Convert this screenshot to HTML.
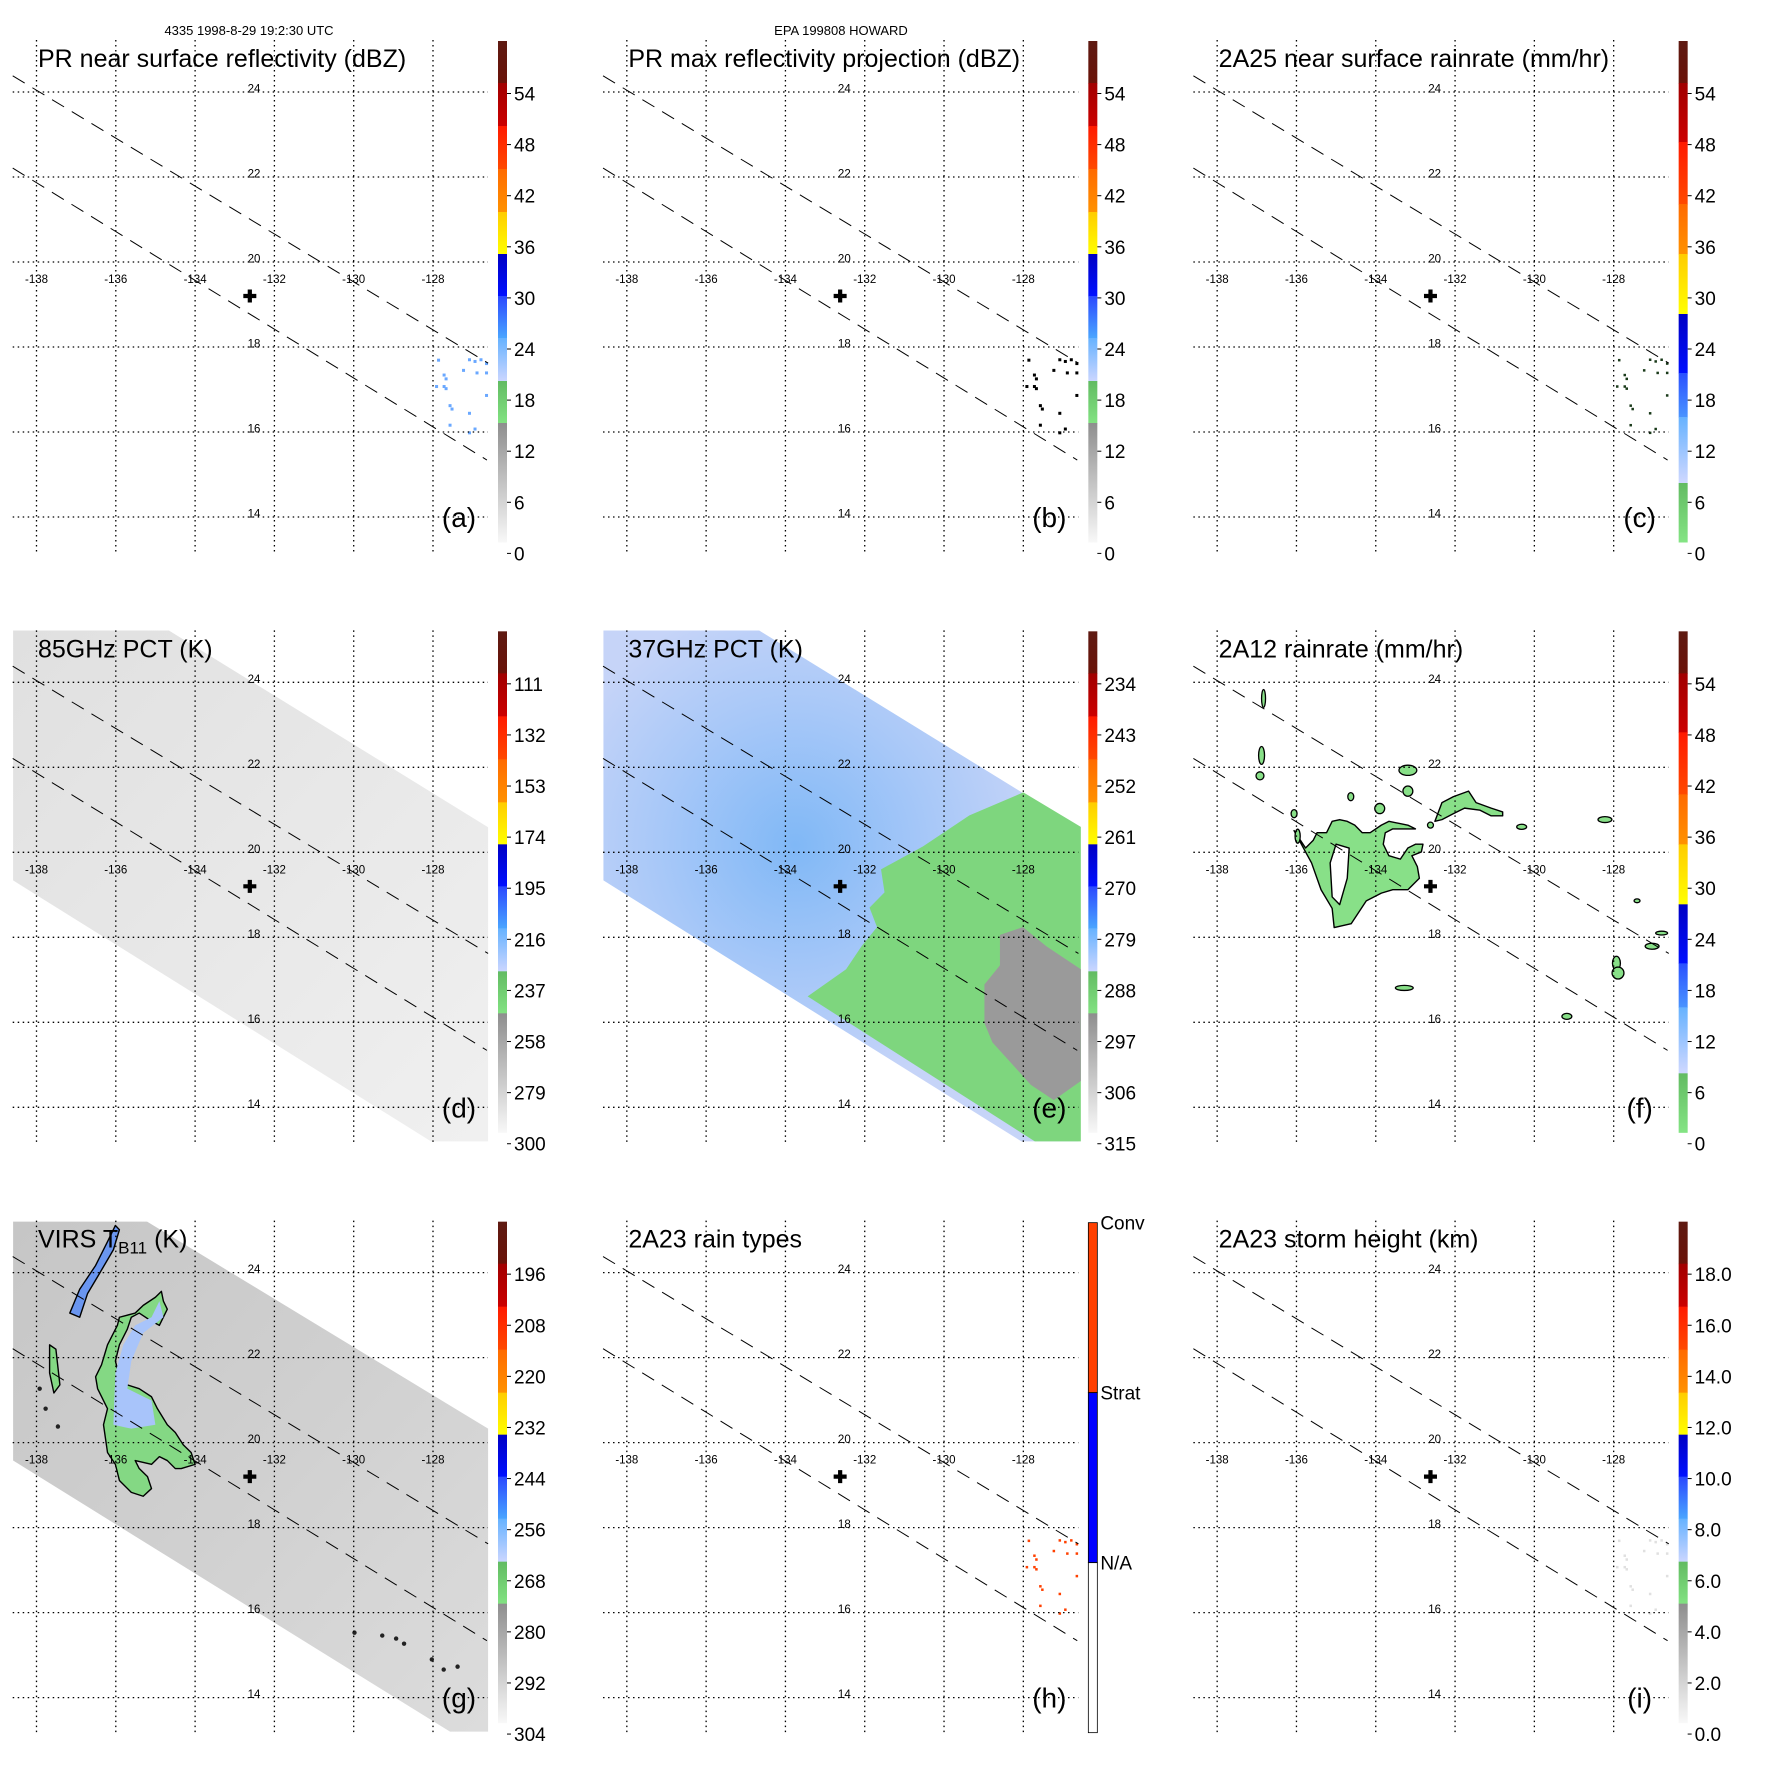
<!DOCTYPE html>
<html><head><meta charset="utf-8"><title>TRMM HOWARD panels</title>
<style>html,body{margin:0;padding:0;background:#fff}svg{display:block}text{font-family:"Liberation Sans",sans-serif}</style>
</head><body>
<svg id="chart" xmlns="http://www.w3.org/2000/svg" width="1771" height="1771" viewBox="0 0 1771 1771">
<defs>
<radialGradient id="blueCore" cx="205" cy="255" r="250" gradientUnits="userSpaceOnUse"><stop offset="0" stop-color="#80b8f6"/><stop offset="0.55" stop-color="#a8c8f8"/><stop offset="1" stop-color="#c6d4f8"/></radialGradient>
<linearGradient id="grayD" x1="0" y1="0" x2="1" y2="1"><stop offset="0" stop-color="#e0e0e0"/><stop offset="1" stop-color="#f0f0f0"/></linearGradient>
<linearGradient id="grayG" x1="0" y1="0" x2="1" y2="1"><stop offset="0" stop-color="#c6c6c6"/><stop offset="0.5" stop-color="#d0d0d0"/><stop offset="1" stop-color="#dcdcdc"/></linearGradient>
</defs>
</svg>
<script>
// ---- data ----
const lonTicks=[-138,-136,-134,-132,-130,-128];
const latTicks=[24,22,20,18,16,14];
const scaleLabelsA=['54','48','42','36','30','24','18','12','6','0'];
const scaleLabelsD=['111','132','153','174','195','216','237','258','279','300'];
const scaleLabelsE=['234','243','252','261','270','279','288','297','306','315'];
const scaleLabelsG=['196','208','220','232','244','256','268','280','292','304'];
const scaleLabelsI=['18.0','16.0','14.0','12.0','10.0','8.0','6.0','4.0','2.0','0.0'];
const rainTypeLabels=['Conv','Strat','N/A'];
const stormCenter=[-132.62,19.2];
const swathUpper=[[-138.6,24.38],[-126.61,17.62]];
const swathLower=[[-138.6,22.21],[-126.64,15.34]];
const tmiSwath=[[-138.59,25.22],[-134.66,25.22],[-126.61,20.59],[-126.61,13.2],[-128.05,13.2],[-138.59,19.34]];
const virsSwath=[[-138.59,25.2],[-135.21,25.2],[-126.61,20.33],[-126.61,13.2],[-127.57,13.2],[-138.59,19.58]];
const prPoints=[[-127.86,17.69],[-127.72,17.34],[-127.67,17.25],[-127.91,17.07],[-127.72,17.07],[-127.67,17.02],[-127.57,16.62],[-127.52,16.54],[-127.08,17.70],[-126.94,17.66],[-126.79,17.70],[-126.65,17.61],[-126.89,17.39],[-126.65,17.39],[-126.65,16.86],[-127.08,16.44],[-126.94,16.07],[-127.08,15.98],[-127.57,16.16],[-127.23,17.45]];
const pct37Green=[[-131.59,19.60],[-130.53,20.14],[-129.36,20.87],[-128.00,21.41],[-126.55,20.60],[-126.55,13.20],[-127.71,13.20],[-133.44,16.61],[-132.47,17.25],[-132.08,17.79],[-131.69,18.24],[-131.88,18.70],[-131.50,19.06]];
const pct37Gray=[[-128.59,18.06],[-128.01,18.24],[-127.42,17.79],[-126.55,17.25],[-126.55,14.62],[-127.23,14.17],[-127.81,14.53],[-128.78,15.53],[-128.98,15.98],[-128.98,16.89],[-128.59,17.34]];
const rainMain=[[-136.06,20.51],[-135.77,20.01],[-135.62,19.75],[-135.38,19.12],[-135.10,18.68],[-135.05,18.23],[-134.62,18.32],[-134.43,18.59],[-134.24,18.86],[-133.86,19.04],[-133.57,19.12],[-133.19,19.12],[-132.90,19.39],[-132.95,19.66],[-133.09,19.92],[-132.85,20.01],[-132.81,20.19],[-133.00,20.19],[-133.19,20.10],[-133.38,19.84],[-133.67,19.92],[-133.81,20.19],[-133.76,20.46],[-133.57,20.55],[-133.00,20.55],[-133.19,20.64],[-133.67,20.73],[-133.86,20.64],[-134.14,20.46],[-134.34,20.46],[-134.53,20.64],[-134.72,20.73],[-134.91,20.77],[-135.10,20.73],[-135.24,20.46],[-135.48,20.46],[-135.58,20.28],[-135.77,20.10]];
const rainHole=[[-135.00,20.19],[-134.67,20.10],[-134.72,19.39],[-134.91,18.77],[-135.10,18.95],[-135.15,19.75]];
const rainArm=[[-132.51,20.73],[-132.33,21.17],[-132.04,21.31],[-131.66,21.44],[-131.47,21.17],[-131.09,21.04],[-130.80,20.95],[-130.80,20.86],[-131.09,20.86],[-131.37,20.99],[-131.76,21.04],[-132.04,20.91],[-132.33,20.77]];
const rainSmallLon=[-136.83,-136.88,-136.92,-133.19,-133.19,-134.63,-133.90,-136.06,-135.97,-132.62,-130.32,-128.22,-127.41,-127.93,-127.89,-127.03,-126.79,-133.28,-129.18];
const rainSmallLat=[23.62,22.28,21.80,21.93,21.44,21.31,21.03,20.91,20.38,20.64,20.60,20.77,18.86,17.39,17.16,17.79,18.10,16.81,16.14];
const rainSmallW=[0.1,0.15,0.2,0.45,0.25,0.15,0.25,0.15,0.13,0.15,0.25,0.35,0.15,0.2,0.3,0.35,0.3,0.45,0.25];
const rainSmallH=[0.42,0.42,0.19,0.24,0.24,0.19,0.24,0.19,0.33,0.14,0.12,0.14,0.09,0.33,0.28,0.14,0.09,0.12,0.14];
const virsMain=[[-136.31,20.42],[-136.21,19.77],[-136.01,19.49],[-135.91,19.11],[-135.61,18.83],[-135.31,18.74],[-135.10,18.92],[-135.20,19.20],[-135.41,19.39],[-135.51,19.58],[-135.10,19.49],[-134.90,19.67],[-134.70,19.58],[-134.50,19.39],[-134.35,19.39],[-134.00,19.49],[-134.10,19.77],[-134.30,19.95],[-134.50,20.24],[-134.70,20.42],[-134.95,20.80],[-135.10,21.08],[-135.41,21.27],[-135.71,21.36],[-135.91,21.55],[-136.01,21.92],[-135.91,22.30],[-135.71,22.67],[-135.61,22.95],[-135.41,23.05],[-135.10,22.86],[-134.90,22.76],[-134.70,23.14],[-134.80,23.33],[-134.85,23.56],[-135.00,23.42],[-135.31,23.23],[-135.51,23.05],[-135.91,22.95],[-135.96,22.76],[-136.21,22.30],[-136.36,21.83],[-136.51,21.55],[-136.46,21.27],[-136.21,20.80]];
const virsCold=[[-136.06,20.42],[-136.01,21.64],[-135.81,22.30],[-135.51,22.76],[-135.10,22.95],[-134.90,23.33],[-134.80,22.95],[-135.31,22.58],[-135.61,21.92],[-135.71,21.27],[-135.10,20.99],[-135.00,20.42],[-135.61,20.33]];
const virsStreak=[[-137.16,23.05],[-136.91,23.61],[-136.51,24.17],[-136.21,24.73],[-136.01,25.11],[-135.91,25.01],[-136.06,24.54],[-136.41,23.98],[-136.71,23.51],[-136.91,22.95]];
const virsWest=[[-137.67,22.30],[-137.51,22.20],[-137.41,21.36],[-137.56,21.17],[-137.67,21.64]];
const virsDotsLon=[-129.98,-129.28,-128.93,-128.73,-128.03,-127.73,-127.38,-137.46,-137.77,-137.92];
const virsDotsLat=[15.53,15.46,15.39,15.27,14.90,14.66,14.73,20.38,20.80,21.27];

// ---- scales ----
const X=lon=>36.5+(lon+138)*39.65;
const Y=lat=>92+(24-lat)*42.5;
const P=590.33;
const NS='http://www.w3.org/2000/svg';
const svg=document.getElementById('chart');
function mk(tag,attrs,parent,txt){const e=document.createElementNS(NS,tag);for(const k in attrs)e.setAttribute(k,attrs[k]);if(txt!==undefined)e.textContent=txt;parent.appendChild(e);return e;}
const pts=a=>a.map(p=>X(p[0]).toFixed(1)+','+Y(p[1]).toFixed(1)).join(' ');

const schemeA=[[41,83,'#5e1a12','#6a1208'],[83,126,'#a00000','#cc0000'],[126,169,'#ff1a00','#ff4a00'],[169,212,'#ff6a00','#ff9200'],[212,254,'#ffcc00','#ffff00'],[254,296,'#0000c4','#0010ff'],[296,338,'#2a48ff','#4aa6ff'],[338,381,'#66b2ff','#ccd6ff'],[381,423,'#62bb62','#82e282'],[423,542,'#8e8e8e','#f8f8f8']];
const schemeC=[[41,83,'#5e1a12','#6a1208'],[83,142,'#a00000','#cc0000'],[142,204,'#ff1a00','#ff4a00'],[204,254,'#ff6a00','#ff9200'],[254,314,'#ffcc00','#ffff00'],[314,373,'#0000c4','#0010ff'],[373,417,'#2a50ff','#4a94ff'],[417,483,'#66b2ff','#d0d8ff'],[483,542,'#62bb62','#84e484']];
let gid=0;
const defs=svg.querySelector('defs');

function colorbar(g,scheme,labels){
  const cb=mk('g',{},g);
  
  
  scheme.forEach(b=>{
    const id='cbg'+(gid++);
    const lg=mk('linearGradient',{id:id,x1:0,y1:0,x2:0,y2:1},defs);
    mk('stop',{offset:0,'stop-color':b[2]},lg);mk('stop',{offset:1,'stop-color':b[3]},lg);
    const r=mk('rect',{x:498,y:b[0],width:9,height:b[1]-b[0]+0.5,fill:'url(#'+id+')'},cb);
    
    
  });
  labels.forEach((t,i)=>{
    const y=93.5+i*51.1;
    mk('line',{x1:507,x2:511,y1:y,y2:y,stroke:'#000','stroke-width':1},cb);
    const tx=mk('text',{x:514,y:y+7,'font-size':19,fill:'#000'},cb,t);
    
    
  });
}

function rainColorbar(g){
  const cb=mk('g',{},g);
  
  
  const cols=['#ff4000','#0000ff','#ffffff'];
  for(let i=0;i<3;i++){
    const r=mk('rect',{x:498,y:42+i*170,width:9,height:170,fill:cols[i],stroke:'#000','stroke-width':0.8},cb);
    
    
    const t=mk('text',{x:510,y:49+i*170,'font-size':19,fill:'#000'},cb,rainTypeLabels[i]);
    
    
  }
}

function frame(g){
  const gr=mk('g',{stroke:'#000','stroke-width':1.3,'stroke-dasharray':'1.5,3.5',fill:'none'},g);
  
  
  lonTicks.forEach(l=>{const ln=mk('line',{x1:X(l),x2:X(l),y1:40,y2:552},gr);});
  latTicks.forEach(l=>{const ln=mk('line',{x1:12.7,x2:488,y1:Y(l),y2:Y(l)},gr);});
  [swathUpper,swathLower].forEach(s=>{
    const d=mk('line',{x1:X(s[0][0]),y1:Y(s[0][1]),x2:X(s[1][0]),y2:Y(s[1][1]),stroke:'#000','stroke-width':1,'stroke-dasharray':'14,9'},g);
    
    
  });
  lonTicks.forEach(l=>{const t=mk('text',{x:X(l),y:Y(20)+21,'font-size':11.5,'text-anchor':'middle',fill:'#000'},g,String(l));});
  latTicks.forEach(l=>{const t=mk('text',{x:254,y:Y(l)+0.5,'font-size':11.5,'text-anchor':'middle',fill:'#000'},g,String(l));});
  const cx=X(stormCenter[0]),cy=Y(stormCenter[1]);
  const c=mk('path',{d:`M${cx-6.5},${cy}H${cx+6.5}M${cx},${cy-6.5}V${cy+6.5}`,stroke:'#000','stroke-width':4.2},g);
  
  
}

function title(g,txt){const t=mk('text',{x:38,y:67,'font-size':25,fill:'#000'},g,txt);return t;}
function plabel(g,txt){const t=mk('text',{x:459,y:527,'font-size':28,'text-anchor':'middle',fill:'#000'},g,txt);}
function dots(g,arr,color,sz){arr.forEach(p=>{const r=mk('rect',{x:X(p[0])-sz/2,y:Y(p[1])-sz/2,width:sz,height:sz,fill:color},g);});}
function poly(g,arr,fill,stroke,name){const p=mk('polygon',{points:pts(arr),fill:fill,stroke:stroke,'stroke-width':1.4,'stroke-linejoin':'round'},g);return p;}
function panel(r,c,name){const g=mk('g',{transform:`translate(${(c*P).toFixed(2)},${(r*P).toFixed(2)})`},svg);return g;}

// header
let h=mk('text',{x:249,y:35,'font-size':13,'text-anchor':'middle',fill:'#000'},svg,'4335 1998-8-29 19:2:30 UTC');


h=mk('text',{x:590+251,y:35,'font-size':13,'text-anchor':'middle',fill:'#000'},svg,'EPA 199808 HOWARD');



// (a)
let g=panel(0,0,'panel-a');
dots(g,prPoints,'#6aa8ff',3);
frame(g);title(g,'PR near surface reflectivity (dBZ)');plabel(g,'(a)');colorbar(g,schemeA,scaleLabelsA);
// (b)
g=panel(0,1,'panel-b');
dots(g,prPoints,'#000',3);
frame(g);title(g,'PR max reflectivity projection (dBZ)');plabel(g,'(b)');colorbar(g,schemeA,scaleLabelsA);
// (c)
g=panel(0,2,'panel-c');
dots(g,prPoints,'#1a3a1a',2.5);
frame(g);title(g,'2A25 near surface rainrate (mm/hr)');plabel(g,'(c)');colorbar(g,schemeC,scaleLabelsA);
// (d)
g=panel(1,0,'panel-d');
poly(g,tmiSwath,'url(#grayD)','none','tmi-85ghz-swath');
frame(g);title(g,'85GHz PCT (K)');plabel(g,'(d)');colorbar(g,schemeA,scaleLabelsD);
// (e)
g=panel(1,1,'panel-e');
poly(g,tmiSwath,'url(#blueCore)','none','tmi-37ghz-swath');
poly(g,pct37Green,'#7ed67e','none','warm-region');
poly(g,pct37Gray,'#9a9a9a','none','hot-region');
frame(g);title(g,'37GHz PCT (K)');plabel(g,'(e)');colorbar(g,schemeA,scaleLabelsE);
// (f)
g=panel(1,2,'panel-f');
poly(g,rainMain,'#88e088','#000','rain-area');
poly(g,rainHole,'#ffffff','#000','rain-gap');
poly(g,rainArm,'#88e088','#000','rain-area');
rainSmallLon.forEach((lo,i)=>{const e=mk('ellipse',{cx:X(lo),cy:Y(rainSmallLat[i]),rx:rainSmallW[i]*39.65/2,ry:rainSmallH[i]*42.5/2,fill:'#88e088',stroke:'#000','stroke-width':1.3},g);});
frame(g);title(g,'2A12 rainrate (mm/hr)');plabel(g,'(f)');colorbar(g,schemeC,scaleLabelsA);
// (g)
g=panel(2,0,'panel-g');
poly(g,virsSwath,'url(#grayG)','none','virs-swath');
poly(g,virsMain,'#84d884','#000','cold-cloud');
poly(g,virsCold,'#a8c4fa','none','colder-cloud');
poly(g,virsStreak,'#6a96f0','#000','cold-cloud-streak');
poly(g,virsWest,'#84d884','#000','cold-cloud');
virsDotsLon.forEach((lo,i)=>{const e=mk('circle',{cx:X(lo),cy:Y(virsDotsLat[i]),r:2.2,fill:'#222'},g);});
frame(g);
const vt=title(g,'VIRS T');
let ts=mk('tspan',{'font-size':17,dy:6},vt,'B11');


ts=mk('tspan',{dy:-6},vt,' (K)');


plabel(g,'(g)');colorbar(g,schemeA,scaleLabelsG);
// (h)
g=panel(2,1,'panel-h');
dots(g,prPoints,'#ff4000',2.5);
frame(g);title(g,'2A23 rain types');plabel(g,'(h)');rainColorbar(g);
// (i)
g=panel(2,2,'panel-i');
dots(g,prPoints,'#e0e0e0',2.5);
frame(g);title(g,'2A23 storm height (km)');plabel(g,'(i)');colorbar(g,schemeA,scaleLabelsI);
</script>
</body></html>
